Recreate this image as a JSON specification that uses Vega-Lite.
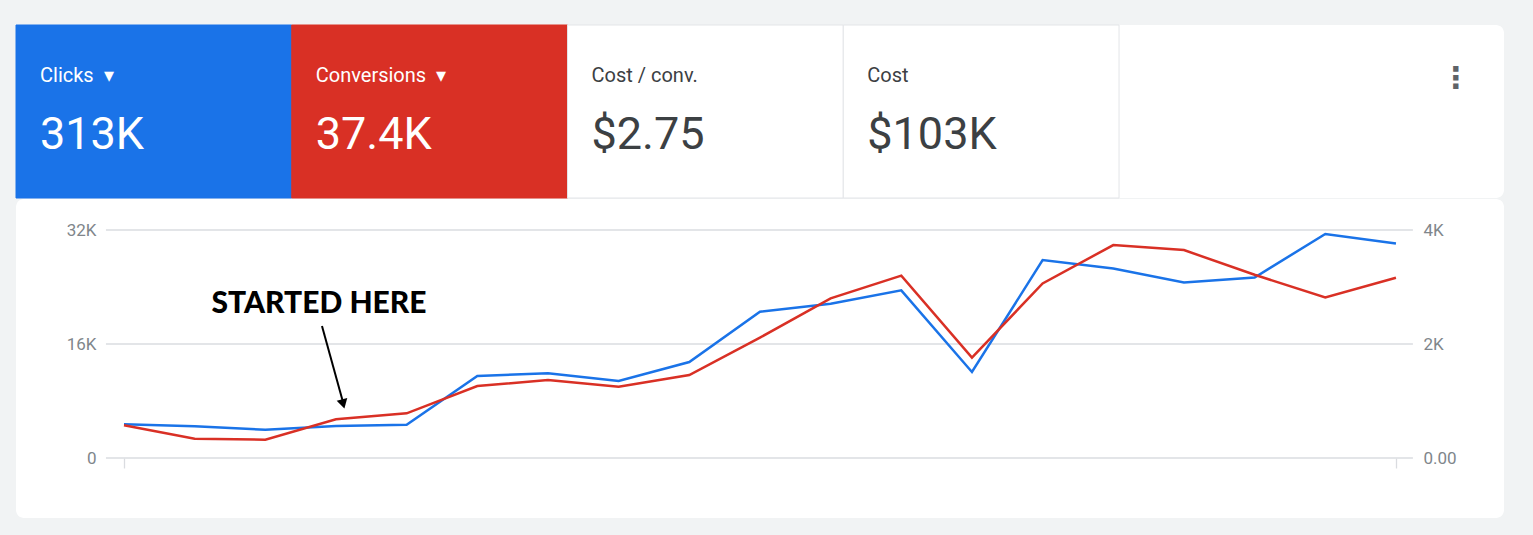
{
  "$schema": "https://vega.github.io/schema/vega-lite/v6.json",
  "background": "#f1f3f4",
  "padding": {"left": 15, "top": 24, "right": 30, "bottom": 19},
  "spacing": 0,
  "config": {"view": {"stroke": null}, "font": "Roboto"},
  "datasets": {
    "tiles": [
      {"metric": "Clicks", "label": "Clicks\u00a0\u00a0▾", "total": "313K"},
      {"metric": "Conversions", "label": "Conversions\u00a0\u00a0▾", "total": "37.4K"},
      {"metric": "Cost / conv.", "label": "Cost / conv.", "total": "$2.75"},
      {"metric": "Cost", "label": "Cost", "total": "$103K"}
    ],
    "series": [
      {"period": 0, "clicks": 4730, "conversions": 573},
      {"period": 1, "clicks": 4450, "conversions": 339},
      {"period": 2, "clicks": 3970, "conversions": 322},
      {"period": 3, "clicks": 4490, "conversions": 678},
      {"period": 4, "clicks": 4670, "conversions": 784},
      {"period": 5, "clicks": 11510, "conversions": 1263},
      {"period": 6, "clicks": 11890, "conversions": 1368},
      {"period": 7, "clicks": 10810, "conversions": 1251},
      {"period": 8, "clicks": 13470, "conversions": 1456},
      {"period": 9, "clicks": 20530, "conversions": 2111},
      {"period": 10, "clicks": 21660, "conversions": 2801},
      {"period": 11, "clicks": 23530, "conversions": 3199},
      {"period": 12, "clicks": 12070, "conversions": 1760},
      {"period": 13, "clicks": 27780, "conversions": 3062},
      {"period": 14, "clicks": 26600, "conversions": 3736},
      {"period": 15, "clicks": 24630, "conversions": 3648},
      {"period": 16, "clicks": 25340, "conversions": 3214},
      {"period": 17, "clicks": 31440, "conversions": 2815},
      {"period": 18, "clicks": 30120, "conversions": 3161}
    ],
    "gridlines": [{"level": 0}, {"level": 16000}, {"level": 32000}],
    "note": [{"text": "STARTED HERE", "period": 2.76, "clicks": 21614}],
    "arrow": [{"from_period": 2.802, "from_clicks": 18526, "to_period": 3.099, "to_clicks": 7860}],
    "arrowhead": [{"period": 3.102, "clicks": 7579}]
  },
  "vconcat": [
    {
      "width": 1488,
      "height": 173,
      "view": {"fill": "white", "cornerRadius": 8},
      "data": {"name": "tiles"},
      "layer": [
        {
          "mark": {"type": "rect", "strokeWidth": 1},
          "encoding": {
            "x": {"field": "metric", "type": "nominal", "sort": null,
                  "scale": {"paddingInner": 0, "paddingOuter": 0.698, "align": 0}, "axis": null},
            "fill": {"field": "metric", "type": "nominal", "legend": null,
                     "scale": {"domain": ["Clicks", "Conversions", "Cost / conv.", "Cost"],
                               "range": ["#1a73e8", "#d93025", "#ffffff", "#ffffff"]}},
            "stroke": {"field": "metric", "type": "nominal", "legend": null,
                       "scale": {"domain": ["Clicks", "Conversions", "Cost / conv.", "Cost"],
                                 "range": ["#1a73e8", "#d93025", "#e3e5e8", "#e3e5e8"]}}
          }
        },
        {
          "mark": {"type": "text", "align": "left", "baseline": "alphabetic", "dx": 24, "dy": -29.5, "fontSize": 20},
          "encoding": {
            "x": {"field": "metric", "type": "nominal", "sort": null, "bandPosition": 0},
            "text": {"field": "label"},
            "color": {"field": "metric", "type": "nominal", "legend": null,
                      "scale": {"domain": ["Clicks", "Conversions", "Cost / conv.", "Cost"],
                                "range": ["#ffffff", "#ffffff", "#3c4043", "#3c4043"]}}
          }
        },
        {
          "mark": {"type": "text", "align": "left", "baseline": "alphabetic", "dx": 24, "dy": 37.5, "fontSize": 45},
          "encoding": {
            "x": {"field": "metric", "type": "nominal", "sort": null, "bandPosition": 0},
            "text": {"field": "total"},
            "color": {"field": "metric", "type": "nominal", "legend": null}
          }
        },
        {
          "data": {"values": [{"icon": "⋮"}]},
          "mark": {"type": "text", "align": "center", "baseline": "middle", "dx": -48, "dy": -32.5,
                   "fontSize": 30, "fontWeight": "bold", "font": "DejaVu Sans", "color": "#5f6368"},
          "encoding": {"x": {"value": "width"}, "text": {"field": "icon"}}
        }
      ]
    },
    {
      "width": 1488,
      "height": 319,
      "view": {"fill": "white", "cornerRadius": 8},
      "layer": [
        {
          "layer": [
            {
              "data": {"name": "gridlines"},
              "mark": {"type": "rule", "color": "#dadce0", "strokeWidth": 1.3},
              "encoding": {
                "y": {"field": "level", "type": "quantitative",
                      "scale": {"domain": [-8421, 36351], "nice": false, "zero": false},
                      "axis": {"orient": "left", "offset": -90, "values": [0, 16000, 32000],
                               "labelExpr": "datum.value == 0 ? '0' : (datum.value / 1000) + 'K'",
                               "grid": false, "domain": false, "ticks": false, "labelPadding": 10,
                               "labelColor": "#80868b", "labelFontSize": 17, "labelFont": "Roboto",
                               "title": null}},
                "x": {"datum": -0.255, "type": "quantitative",
                      "scale": {"domain": [-1.528, 19.529], "nice": false, "zero": false},
                      "axis": {"orient": "bottom", "offset": -60, "values": [0, 18], "labels": false,
                               "domain": false, "ticks": true, "tickSize": 10, "tickColor": "#dadce0",
                               "tickWidth": 1.3, "grid": false, "title": null}},
                "x2": {"datum": 18.24}
              }
            },
            {
              "data": {"name": "series"},
              "mark": {"type": "line", "color": "#1a73e8", "strokeWidth": 2.5},
              "encoding": {
                "x": {"field": "period", "type": "quantitative",
                      "axis": {"orient": "bottom", "offset": -60, "values": [0, 18], "labels": false,
                               "domain": false, "ticks": true, "tickSize": 10, "tickColor": "#dadce0",
                               "tickWidth": 1.3, "grid": false, "title": null}},
                "y": {"field": "clicks", "type": "quantitative",
                      "axis": {"orient": "left", "offset": -90, "values": [0, 16000, 32000],
                               "labelExpr": "datum.value == 0 ? '0' : (datum.value / 1000) + 'K'",
                               "grid": false, "domain": false, "ticks": false, "labelPadding": 10,
                               "labelColor": "#80868b", "labelFontSize": 17, "labelFont": "Roboto",
                               "title": null}}
              }
            },
            {
              "data": {"name": "note"},
              "mark": {"type": "text", "font": "Lato", "fontWeight": 900, "fontSize": 30,
                       "align": "center", "baseline": "middle", "color": "#000000"},
              "encoding": {
                "x": {"field": "period", "type": "quantitative", "axis": {"title": null}},
                "y": {"field": "clicks", "type": "quantitative", "axis": {"title": null}},
                "text": {"field": "text"}
              }
            },
            {
              "data": {"name": "arrow"},
              "mark": {"type": "rule", "color": "#000000", "strokeWidth": 2},
              "encoding": {
                "x": {"field": "from_period", "type": "quantitative", "axis": {"title": null}},
                "y": {"field": "from_clicks", "type": "quantitative", "axis": {"title": null}},
                "x2": {"field": "to_period"},
                "y2": {"field": "to_clicks"}
              }
            },
            {
              "data": {"name": "arrowhead"},
              "mark": {"type": "point", "shape": "triangle-down", "filled": true, "size": 120,
                       "angle": 345, "color": "#000000", "opacity": 1},
              "encoding": {
                "x": {"field": "period", "type": "quantitative", "axis": {"title": null}},
                "y": {"field": "clicks", "type": "quantitative", "axis": {"title": null}}
              }
            }
          ]
        },
        {
          "data": {"name": "series"},
          "mark": {"type": "line", "color": "#d93025", "strokeWidth": 2.5},
          "encoding": {
            "x": {"field": "period", "type": "quantitative", "axis": {"title": null}},
            "y": {"field": "conversions", "type": "quantitative",
                  "scale": {"domain": [-1052.6, 4543.9], "nice": false, "zero": false},
                  "axis": {"orient": "right", "offset": -91, "values": [0, 2000, 4000],
                           "labelExpr": "datum.value == 0 ? '0.00' : (datum.value / 1000) + 'K'",
                           "grid": false, "domain": false, "ticks": false, "labelPadding": 10,
                           "labelColor": "#80868b", "labelFontSize": 17, "labelFont": "Roboto",
                           "title": null}}
          }
        }
      ],
      "resolve": {"scale": {"y": "independent"}, "axis": {"y": "independent"}}
    }
  ]
}
